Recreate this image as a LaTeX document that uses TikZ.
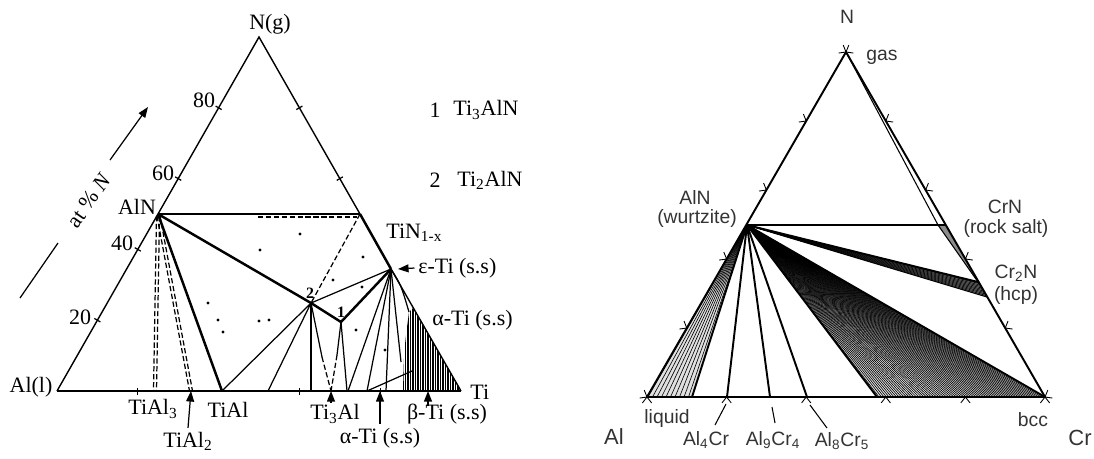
\documentclass[tikz,border=0pt]{standalone}
\usepackage{fontspec}
\setmainfont{Liberation Serif}
\newfontfamily\sansfont{Liberation Sans}
\usetikzlibrary{arrows.meta, calc}
\colorlet{labelgray}{black!80}
\colorlet{bandgray}{black!45}
\colorlet{fangray}{black!12}
\newcommand{\ltick}[3]{%
  \draw[line width=0.7pt] (#1,#2) -- ++(#3:0.07cm) (#1,#2) -- ++({#3+180}:0.07cm);}
\newcommand{\rtick}[3]{%
  \draw[line width=0.5pt] (#1,#2) -- ++({#3+38}:0.15cm) (#1,#2) -- ++({#3-38}:0.15cm);}

\begin{document}
\begin{tikzpicture}[x=0.02cm, y=-0.02cm, >={Triangle[length=6pt,width=4.5pt]},
    lbl/.style={font=\fontsize{12.5}{14}\selectfont, inner sep=0pt},
    num/.style={font=\bfseries\fontsize{9}{10}\selectfont, inner sep=0pt},
    rlbl/.style={font=\sansfont\fontsize{11}{13}\selectfont, text=labelgray, inner sep=0pt},
    axisline/.style={line width=0.8pt},
    heavyline/.style={line width=1.4pt},
    phaseline/.style={line width=0.7pt},
    dashline/.style={line width=0.7pt, dash pattern=on 3pt off 1.5pt},
    rline/.style={line width=1.1pt},
    rthin/.style={line width=0.6pt},
    tieline/.style={line width=0.35pt}]
  \useasboundingbox (0,0) rectangle (1094,458);

  % Ti-Al-N
  \coordinate (Al) at (57,391);
  \coordinate (Ti) at (461,391);
  \coordinate (Ng) at (259,37);
  \coordinate (AlN) at (158,214);
  \coordinate (TiN) at (360,214);
  \coordinate (eTi) at (391,269);
  \coordinate (aTi) at (413,308);
  \coordinate (p2) at (311,303);
  \coordinate (p1) at (341,322);
  \coordinate (TiAlthree) at (155,391);
  \coordinate (TiAltwo) at (191,391);
  \coordinate (TiAl) at (222,391);
  \coordinate (TiThreeAl) at (331,391);

  \begin{scope}
    \clip (aTi) -- (Ti) -- (403,391) .. controls (404,350) .. (409,312) -- cycle;
    \foreach \x in {403,405.5,...,461} {\draw[line width=0.7pt] (\x,300) -- (\x,392);}
  \end{scope}

  \draw[axisline] (Al) -- (Ng) -- (TiN);
  \draw[heavyline] (TiN) -- (eTi);
  \draw[axisline] (eTi) -- (Ti);
  \draw[heavyline] (Al) -- (Ti);
  \draw[heavyline] (AlN) -- (TiN);
  \draw[dashline] (258,217) -- (357,217);
  \draw[dashline] (TiN) -- (p2);
  \draw[dashline] (156.5,216) -- (153.5,391);
  \draw[dashline] (159.5,216) -- (156.5,391);
  \draw[dashline] (157,216) -- (189.5,391);
  \draw[dashline] (160,216) -- (192.5,391);
  \draw[heavyline] (AlN) -- (p2) -- (p1) -- (eTi);
  \draw[heavyline] (AlN) -- (TiAl);
  \draw[phaseline] (TiAl) -- (p2) -- (268,391);
  \draw[phaseline] (p2) -- (311,391);
  \draw[phaseline] (p2) -- (eTi);
  \draw[phaseline] (p2) -- (322,357);
  \draw[dashline] (322,357) -- (TiThreeAl);
  \draw[phaseline] (p1) -- (337,355);
  \draw[dashline] (337,355) -- (TiThreeAl);
  \draw[phaseline] (p1) -- (347,391);
  \draw[phaseline] (eTi) -- (348,391);
  \draw[phaseline] (eTi) -- (367,391);
  \draw[phaseline] (eTi) -- (386,391);
  \draw[phaseline] (eTi) -- (401,362);
  \draw[phaseline] (eTi) .. controls (401,285) .. (409,312);
  \draw[phaseline] (367,391) -- (412,371);
  \foreach \p in {(260,250),(208,303),(218,320),(223,332),(259,321),(269,320),
                  (362,287),(356,330),(385,350),(333,280),(363,257),(300,234)}
    {\fill \p circle[radius=0.9pt];}

  \foreach \x/\y in {97.4/320.2, 137.8/249.4, 178.2/178.6, 218.6/107.8}
    {\ltick{\x}{\y}{150}}
  \foreach \x/\y in {339.8/178.6, 299.4/107.8}
    {\ltick{\x}{\y}{30}}
  \foreach \x in {137.8, 299.4, 380.2}
    {\ltick{\x}{391}{90}}

  \node[lbl] (lNg) at (270,24) {N(g)};
  \node[lbl] (lAl) at (31,387) {Al(l)};
  \node[lbl] (lAlN) at (137,207) {AlN};
  \node[lbl] (l80) at (204,100) {80};
  \node[lbl] (l60) at (163,173) {60};
  \node[lbl] (l40) at (122,243) {40};
  \node[lbl] (l20) at (80,317) {20};
  \node[lbl, anchor=west] (lTiN) at (386,233) {TiN\textsubscript{1-x}};
  \node[lbl, anchor=west] (leTi) at (418,268) {ε-Ti (s.s)};
  \node[lbl, anchor=west] (laTi) at (432,320) {α-Ti (s.s)};
  \node[lbl, anchor=west] (lTi) at (470,392) {Ti};
  \node[lbl] (lTiAlthree) at (153,409) {TiAl\textsubscript{3}};
  \node[lbl] (lTiAl) at (228,410) {TiAl};
  \node[lbl] (lTiAltwo) at (188,441) {TiAl\textsubscript{2}};
  \node[lbl] (lTiThreeAl) at (335,414) {Ti\textsubscript{3}Al};
  \node[lbl] (lbTi) at (447,414) {β-Ti (s.s)};
  \node[lbl] (laTib) at (380,438) {α-Ti (s.s)};
  \node[num] (ltwo) at (310,293) {2};
  \node[num] (lone) at (341,312) {1};
  \node[lbl] (kone) at (435,110) {1};
  \node[lbl, anchor=west] (konename) at (453,110) {Ti\textsubscript{3}AlN};
  \node[lbl] (ktwo) at (435,180) {2};
  \node[lbl, anchor=west] (ktwoname) at (457,180) {Ti\textsubscript{2}AlN};
  \node[lbl, rotate=55] (lat) at (89,200) {at \% \textit{N}};
  \draw[phaseline] (20,298) -- (58,243);
  \draw[->, phaseline] (110,160) -- (148,107);

  \draw[->, phaseline] ([xshift=-2pt]leTi.west) -- ([xshift=4pt]eTi);
  \draw[->, phaseline] ([yshift=2pt]lTiAltwo.north) -- (TiAltwo);
  \draw[->, phaseline] ([yshift=1pt]lTiThreeAl.north -| TiThreeAl) -- (TiThreeAl);
  \draw[->, phaseline] ([yshift=2pt]laTib.north) -- (380,391);
  \draw[->, phaseline] (428,406) -- (428,391);

  % Al-Cr-N
  \coordinate (rAl) at (647,397);
  \coordinate (rCr) at (1045,397);
  \coordinate (rN) at (846,52);
  \coordinate (rAlN) at (747,225);
  \coordinate (rCrN) at (946,225);
  \coordinate (rCrNi) at (938,225);
  \coordinate (rCrtwoN) at (978,282);
  \coordinate (rCrtwoNb) at (987,297);
  \coordinate (rLiq) at (692,397);
  \coordinate (rAlfourCr) at (727,397);
  \coordinate (rAlnineCr) at (770,397);
  \coordinate (rAleightCr) at (807,397);
  \coordinate (rBcc) at (877,397);

  \fill[fangray] (rAlN) -- (rBcc) -- (rCr) -- cycle;
  \fill[fangray] (rAlN) -- (rAl) -- (rLiq) -- cycle;
  \foreach \x in {648,652.5,...,690} {\draw[tieline] (rAlN) -- (\x,397);}
  \foreach \x in {879,881.5,...,1044} {\draw[tieline] (rAlN) -- (\x,397);}
  \fill[bandgray] (rAlN) -- (rCrtwoN) -- (rCrtwoNb) -- cycle;
  \foreach \t in {0,0.1,...,1} {\draw[tieline] (rAlN) -- ($(rCrtwoN)!\t!(rCrtwoNb)$);}
  \fill[bandgray] (rCrNi) -- (rCrN) -- (rCrtwoN) -- cycle;
  \draw[rline] (rAl) -- (rN) -- (rCr) -- cycle;
  \draw[rthin] (rN) -- (rCrNi) -- (rCrtwoN);
  \draw[rline] (rAlN) -- (rCrN);
  \draw[rline] (rAlN) -- (rCrtwoN);
  \draw[rthin] (rAlN) -- (rCrtwoNb);
  \draw[rline] (rAlN) -- (rCr);
  \draw[rline] (rAlN) -- (rBcc);
  \draw[rline] (rAlN) -- (rLiq);
  \draw[rline] (rAlN) -- (rAlfourCr);
  \draw[rline] (rAlN) -- (rAlnineCr);
  \draw[rline] (rAlN) -- (rAleightCr);
  \draw[line width=1.5pt] (rLiq) -- (rBcc);

  \foreach \x/\y in {686.8/328, 726.6/259, 766.4/190, 806.2/121, 846/52, 647/397}
    {\rtick{\x}{\y}{150}}
  \foreach \x/\y in {1005.2/328, 965.4/259, 925.6/190, 885.8/121, 846/52, 1045/397}
    {\rtick{\x}{\y}{30}}
  \foreach \x in {647, 726.6, 806.2, 885.8, 965.4, 1045}
    {\rtick{\x}{397}{270}}

  \node[rlbl] (lN) at (847,17) {N};
  \node[rlbl, anchor=west] (lgas) at (866,57) {gas};
  \node[rlbl] (lrAlN) at (695,197) {AlN};
  \node[rlbl] (lwurtz) at (697,218) {(wurtzite)};
  \node[rlbl] (lCrN) at (1005,207) {CrN};
  \node[rlbl] (lrock) at (1006,228) {(rock salt)};
  \node[rlbl] (lCrtwoN) at (1016,273) {Cr\textsubscript{2}N};
  \node[rlbl] (lhcp) at (1016,295) {(hcp)};
  \node[rlbl] (lbcc) at (1033,420) {bcc};
  \node[rlbl, font=\sansfont\fontsize{12.5}{14}\selectfont] (lCr) at (1080,438) {Cr};
  \node[rlbl, font=\sansfont\fontsize{12.5}{14}\selectfont] (lrAl) at (614,437) {Al};
  \node[rlbl] (lliq) at (667,418) {liquid};
  \node[rlbl] (lAlfourCr) at (706,440) {Al\textsubscript{4}Cr};
  \node[rlbl] (lAlnineCr) at (773,440) {Al\textsubscript{9}Cr\textsubscript{4}};
  \node[rlbl] (lAleightCr) at (842,441) {Al\textsubscript{8}Cr\textsubscript{5}};
  \draw[rthin] (715,425) -- (726,404);
  \draw[rthin] (772,407) -- (775,423);
  \draw[rthin] (810,405) -- (827,428);
\end{tikzpicture}
\end{document}
